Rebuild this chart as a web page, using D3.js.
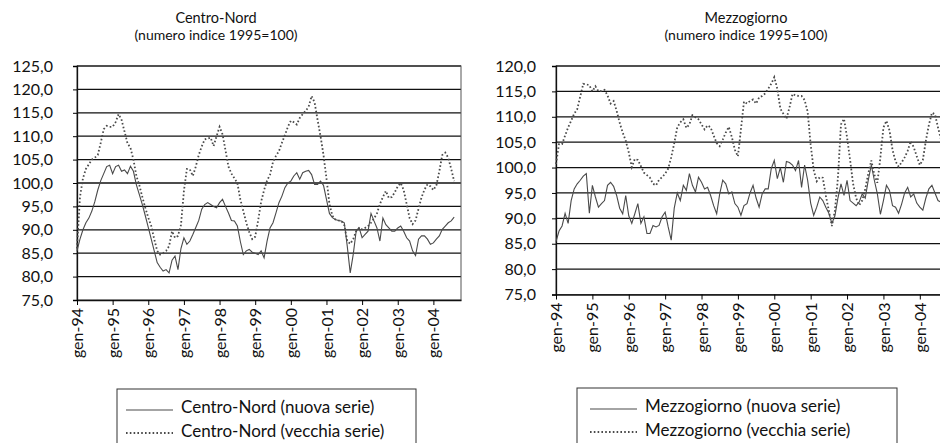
<!DOCTYPE html>
<html lang="it">
<head>
    <meta charset="UTF-8">
    <title>Centro-Nord e Mezzogiorno</title>
    <script src="https://d3js.org/d3.v7.min.js"></script>
    <style>
        body { margin: 0; background: #fff; }
        svg { display: block; font-family: "Lato", "Open Sans", sans-serif; }
    </style>
</head>
<body>
<svg id="chart" width="940" height="443"></svg>
<script>
// tick labels on the category axis (one every 12 months, from gen-94)
var yearLabels = ["gen-94", "gen-95", "gen-96", "gen-97", "gen-98", "gen-99",
                  "gen-00", "gen-01", "gen-02", "gen-03", "gen-04"];

// Centro-Nord, monthly gen-94 .. ago-04
var cnNuova = [85.5, 88, 90, 91.5, 92.5, 94, 96, 98.5, 100.5, 102, 103.5, 103.8,
    102, 103.5, 103.8, 102.5, 102.8, 102, 103.6, 102.5, 99.6, 97.5, 95.4, 93,
    90.5, 88, 85.5, 83, 82, 81.2, 81.5, 80.8, 83.5, 84.4, 81.5, 86,
    88.3, 86.9, 87.6, 89, 90.5, 92, 94.4, 95.4, 95.8, 95.4, 95, 94.7,
    95.8, 96.5, 95, 93.6, 92, 91.9, 90.8, 87.5, 84.7, 85.5, 85.8, 85.2,
    85, 84.7, 85.5, 84, 87.6, 90.4, 91.5, 93.6, 95.8, 97.2, 99, 100,
    100.4, 101.5, 102.2, 100.8, 102.2, 102.5, 102.7, 101.8, 99.7, 99.7, 100.4, 99.5,
    96.5, 93.5, 92.6, 92.2, 92, 91.9, 91.5, 86.5, 80.8, 84.7, 89.7, 90.4,
    88.3, 89, 89.7, 93.5, 91.9, 90.4, 87.6, 92.5, 91.1, 90.4, 89.7, 89.7,
    90.4, 90.8, 89.7, 88.3, 87.6, 85.5, 84.5, 88, 88.7, 88.7, 88, 86.9,
    87.2, 88, 88.7, 90.1, 90.8, 91.5, 91.9, 92.7];

var cnVecchia = [86, 97, 101, 103, 104, 105, 105.4, 106, 108.6, 111.5, 112.2, 112,
    112, 113, 114.7, 113.5, 111, 108.5, 107.5, 105, 101.5, 99.5, 97, 94.7,
    92.6, 90.8, 88, 85.5, 84.7, 85, 85.5, 86.5, 89.7, 88.3, 88.7, 91,
    98.3, 103, 102.9, 101.5, 103.5, 106, 107.8, 109.3, 109.5, 109.7, 107.9, 110,
    112, 110.4, 107, 103.5, 102, 101, 100, 96.5, 94, 91.5, 89.5, 88,
    88.5, 92, 96, 98.5, 100.5, 101.8, 104.5, 105.8, 106.8, 108.6, 110.2, 112,
    113.3, 113, 112.5, 113.9, 114.7, 115.4, 116.3, 118.6, 117.2, 113.5, 110, 106,
    101, 95.5, 93, 92.2, 92, 91.9, 91, 87.6, 87, 88, 89.7, 90.4,
    90.1, 90.4, 90.8, 91.5, 92.4, 93.5, 95.5, 97, 98.3, 96.8, 97, 98,
    99.3, 100, 98.5, 95.5, 92.5, 91.2, 92, 94.5, 96.9, 98.6, 99.7, 99.3,
    98.5, 99.5, 102.5, 106, 106.5, 105.4, 103, 100.4];

// Mezzogiorno, monthly gen-94 .. ago-04
var mzNuova = [85.4, 87.5, 88.5, 91, 89, 93.5, 95.8, 96.8, 97.5, 98.3, 98.8, 91,
    96.5, 94.2, 92.2, 92.9, 93.5, 96.5, 97.1, 96.3, 94.5, 92, 90.9, 94.5,
    90.5, 89, 90.9, 92.9, 89, 90.3, 87, 87, 88.6, 88.3, 88.6, 90.3,
    91.2, 88.3, 85.7, 92, 95, 93.5, 96.5, 95.5, 98.8, 96.5, 95.2, 98.1,
    97.1, 95.8, 96.1, 94.5, 92.5, 90.9, 94.8, 97.5, 96.8, 94.8, 95.2, 92.9,
    92.2, 90.6, 92.5, 92.9, 95, 96.5, 94, 92.2, 94.8, 95.8, 95.8, 99.8,
    101.4, 97.8, 100, 97.1, 101.2, 101, 100.5, 99.4, 101.4, 96.1, 100.5, 97.5,
    93, 90.6, 92.2, 94.2, 93.5, 92.2, 91, 89, 90.5, 94, 96.8, 94.5,
    97.5, 93.5, 93, 92.5, 93.2, 94.8, 94, 97.5, 100.5, 97.5, 94.8, 90.8,
    93.5, 96.5, 95.5, 92.5, 92.2, 91, 92.8, 95, 96.1, 94.2, 94.8, 93,
    92.2, 91.6, 94, 95.8, 96.5, 95, 93.5, 93.2];

var mzVecchia = [100.7, 104.6, 104.6, 106.3, 107.9, 109.2, 110.6, 111.5, 114, 116.5, 116.4, 116.2,
    115, 116, 115, 115.1, 115.3, 114.2, 112.6, 113.1, 111.2, 108.8, 106.9, 105.3,
    103, 100.1, 101.7, 101.5, 100.3, 99, 98.5, 98, 96.8, 96.5, 97.6, 98.1,
    98.8, 99.8, 102, 104.8, 107.9, 108.9, 109.5, 107.8, 108.5, 110.3, 109.9, 109.5,
    108.5, 107.5, 108.3, 107.9, 106.3, 104.8, 104.2, 105.5, 106.9, 108, 106, 103.5,
    102.2, 107.5, 113, 112.6, 113.1, 113.4, 112.6, 113.8, 114.1, 114.6, 115.5, 116.5,
    117.8, 115.5, 111.6, 110.6, 109.6, 111.8, 114.5, 114.2, 114.1, 114.1, 113.3, 111,
    104.5, 99.5, 97.3, 98.1, 98, 94.5, 91.5, 88.5, 91.5, 98, 108.5, 109.6,
    106, 101.5, 96.8, 94, 92.6, 93.5, 95.8, 98.8, 101.4, 98.6, 97, 102,
    107.9, 109.2, 107.3, 103.5, 101.2, 100.2, 101, 102, 103.3, 105.2, 104, 102.2,
    100.5, 101.5, 105.3, 108.4, 110.8, 110.5, 107.9, 105.5];

var cnTicks = [75, 80, 85, 90, 95, 100, 105, 110, 115, 120, 125];
var mzTicks = [75, 80, 85, 90, 95, 100, 105, 110, 115, 120];

var svg = d3.select("#chart");
var fmt = function(v) { return d3.format(".1f")(v).replace(".", ","); };

function drawPanel(p) {
    var g = svg.append("g");

    var x = d3.scaleLinear().domain([0, 129.3]).range([p.left, p.right]);
    var y = d3.scaleLinear().domain([p.ticks[0], p.ticks[p.ticks.length - 1]])
        .range([p.bottom, p.top]);

    // gridlines
    g.selectAll(".grid").data(p.ticks.slice(1)).enter().append("line")
        .attr("x1", p.left).attr("x2", p.right)
        .attr("y1", d => y(d)).attr("y2", d => y(d))
        .attr("stroke", "#111").attr("stroke-width", 1.3);

    // plot border
    g.append("rect")
        .attr("x", p.left).attr("y", p.top)
        .attr("width", p.right - p.left).attr("height", p.bottom - p.top)
        .attr("fill", "none").attr("stroke", "#555").attr("stroke-width", 1);

    // y axis
    var yAxis = g.append("g")
        .attr("transform", "translate(" + p.left + ",0)")
        .call(d3.axisLeft(y).tickValues(p.ticks).tickFormat(fmt).tickSize(4).tickPadding(p.labelPad));
    yAxis.select(".domain").attr("stroke", "#111").attr("stroke-width", 1.3);
    yAxis.selectAll("text").attr("font-size", 16).attr("fill", "#111")
        .attr("font-family", "Lato, sans-serif");

    // x axis: a tick every 12 months, rotated labels
    var tickIdx = yearLabels.map((d, i) => i * 12);
    var xAxis = g.append("g")
        .attr("transform", "translate(0," + p.bottom + ")")
        .call(d3.axisBottom(x).tickValues(tickIdx).tickFormat((d, i) => yearLabels[i]).tickSize(5).tickSizeOuter(0));
    xAxis.select(".domain").attr("stroke", "#111").attr("stroke-width", 1.3);
    xAxis.selectAll("text")
        .attr("font-size", 16).attr("fill", "#111")
        .attr("font-family", "Lato, sans-serif")
        .attr("text-anchor", "end")
        .attr("transform", "rotate(-90)")
        .attr("x", -8).attr("y", 0).attr("dy", "0.35em");

    var line = d3.line().x((d, i) => x(i)).y(d => y(d));

    g.append("path").datum(p.nuova)
        .attr("d", line).attr("fill", "none")
        .attr("stroke", "#4a4a4a").attr("stroke-width", 1.1);

    g.append("path").datum(p.vecchia)
        .attr("d", line).attr("fill", "none")
        .attr("stroke", "#4a4a4a").attr("stroke-width", 1.8)
        .attr("stroke-dasharray", "1.6,2.2");

    // titles
    g.append("text").attr("x", p.titleX).attr("y", 23)
        .attr("text-anchor", "middle").attr("font-size", 14.5).attr("fill", "#111")
        .text(p.title);
    g.append("text").attr("x", p.titleX).attr("y", 40)
        .attr("text-anchor", "middle").attr("font-size", 14).attr("fill", "#111")
        .text("(numero indice 1995=100)");

    // legend
    var lg = g.append("g").attr("transform", "translate(" + p.legX + "," + p.legY + ")");
    lg.append("rect").attr("width", p.legW).attr("height", 70)
        .attr("fill", "#fff").attr("stroke", "#333").attr("stroke-width", 1);
    lg.append("line").attr("x1", p.sampleX).attr("x2", p.sampleX + 47)
        .attr("y1", 21).attr("y2", 21)
        .attr("stroke", "#4a4a4a").attr("stroke-width", 1.1);
    lg.append("line").attr("x1", p.sampleX).attr("x2", p.sampleX + 47)
        .attr("y1", 44).attr("y2", 44)
        .attr("stroke", "#4a4a4a").attr("stroke-width", 1.8).attr("stroke-dasharray", "1.6,2.2");
    lg.append("text").attr("x", p.sampleX + 55).attr("y", 24)
        .attr("font-size", 17).attr("fill", "#111").text(p.legNuova);
    lg.append("text").attr("x", p.sampleX + 55).attr("y", 48)
        .attr("font-size", 17).attr("fill", "#111").text(p.legVecchia);
}

drawPanel({
    left: 77, right: 461, top: 66, bottom: 300, labelPad: 20,
    ticks: cnTicks, nuova: cnNuova, vecchia: cnVecchia,
    title: "Centro-Nord", titleX: 216,
    legX: 117, legY: 389, legW: 299, sampleX: 9,
    legNuova: "Centro-Nord (nuova serie)", legVecchia: "Centro-Nord (vecchia serie)"
});

drawPanel({
    left: 556, right: 948, top: 66, bottom: 294.5, labelPad: 16,
    ticks: mzTicks, nuova: mzNuova, vecchia: mzVecchia,
    title: "Mezzogiorno", titleX: 746,
    legX: 577, legY: 388, legW: 320, sampleX: 13,
    legNuova: "Mezzogiorno (nuova serie)", legVecchia: "Mezzogiorno (vecchia serie)"
});
</script>
</body>
</html>
